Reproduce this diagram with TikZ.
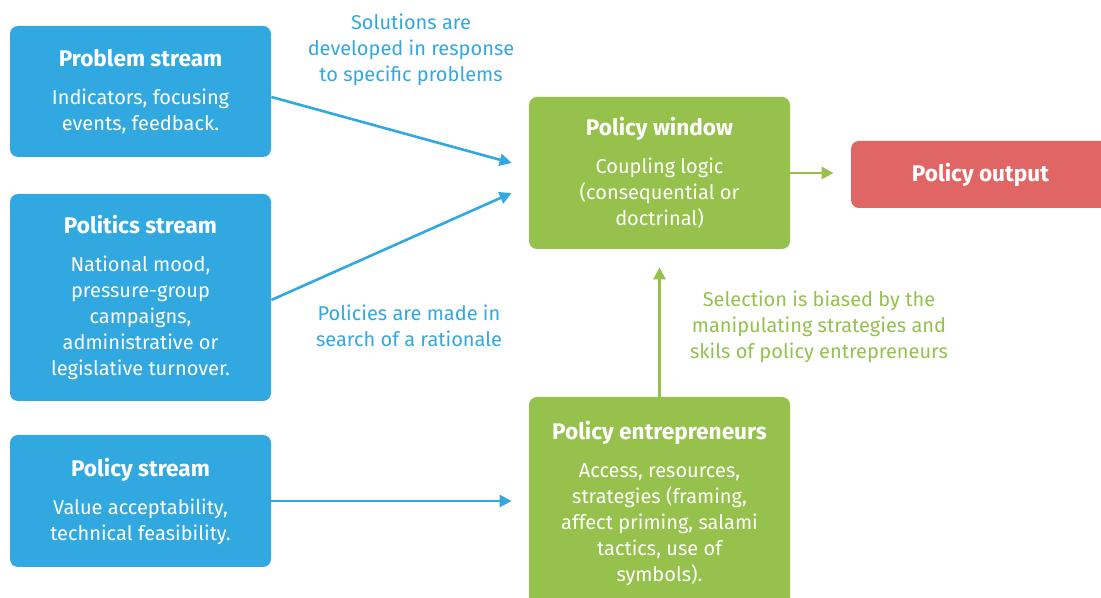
\documentclass[tikz,border=0pt]{standalone}
\usepackage{fontspec}
\setmainfont{Fira Sans}
\usepackage{tikz}
\usetikzlibrary{arrows.meta, positioning, calc}
\definecolor{streamblue}{RGB}{50,168,224}
\definecolor{windowgreen}{RGB}{149,193,76}
\definecolor{outputred}{RGB}{224,101,101}
\newcommand{\headfont}{\fontsize{11.3}{13}\selectfont\bfseries}

\begin{document}
\begin{tikzpicture}[x=50pt, y=50pt,
    box/.style={rounded corners=4pt, minimum width=130.5pt, inner sep=2pt, align=center, text=white, font=\fontsize{10}{13}\selectfont},
    bluebox/.style={box, fill=streamblue},
    greenbox/.style={box, fill=windowgreen},
    flow/.style={line width=1.3pt, -{Triangle[length=6pt, width=6pt]}},
    note/.style={align=center, font=\fontsize{10}{13}\selectfont}]
    \useasboundingbox (0,0) rectangle (11.01,5.98);

    % Streams
    \node[bluebox, minimum height=65.5pt] (problem) at (1.405,5.065) {{\headfont Problem stream}\\[6pt]Indicators, focusing\\events, feedback.};
    \node[bluebox, minimum height=103.5pt] (politics) at (1.405,3.005) {{\headfont Politics stream}\\[6pt]National mood,\\pressure-group\\campaigns,\\administrative or\\legislative turnover.};
    \node[bluebox, minimum height=66pt] (policy) at (1.405,0.97) {{\headfont Policy stream}\\[6pt]Value acceptability,\\technical feasibility.};

    % Window and entrepreneurs
    \node[greenbox, minimum height=76pt] (window) at (6.595,4.25) {{\headfont Policy window}\\[6pt]Coupling logic\\(consequential or\\doctrinal)};
    \node[greenbox, minimum height=106pt] (entre) at (6.595,0.95) {{\headfont Policy entrepreneurs}\\[6pt]Access, resources,\\strategies (framing,\\affect priming, salami\\tactics, use of\\symbols).};

    % Output
    \node[box, fill=outputred, minimum width=129.5pt, minimum height=33.5pt] (output) at (9.805,4.235) {\headfont Policy output};

    % Arrows
    \draw[flow, streamblue] ($(problem.east)+(0,-0.055)$) -- ($(window.west)+(-0.17,0.10)$);
    \draw[flow, streamblue] ($(politics.east)+(0,-0.025)$) -- ($(window.west)+(-0.17,-0.20)$);
    \draw[flow, streamblue] ($(policy.east)$) -- ($(entre.west |- policy.east)+(-0.17,0)$);
    \draw[flow, windowgreen] (window.east) -- ($(output.west |- window.east)+(-0.17,0)$);
    \draw[flow, windowgreen] (entre.north) -- ($(window.south)+(0,-0.18)$);

    % Notes
    \node[note, text=streamblue] (solutions) at (4.11,5.48) {Solutions are\\developed in response\\to specific problems};
    \node[note, text=streamblue] (rationale) at (4.09,2.72) {Policies are made in\\search of a rationale};
    \node[note, text=windowgreen] (selection) at (8.19,2.71) {Selection is biased by the\\manipulating strategies and\\skils of policy entrepreneurs};
\end{tikzpicture}
\end{document}
